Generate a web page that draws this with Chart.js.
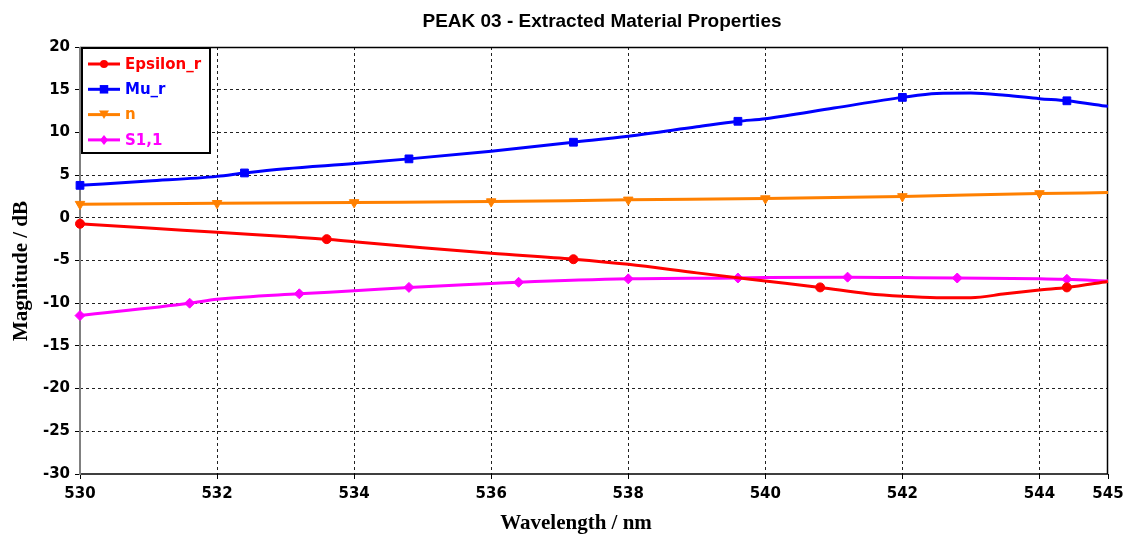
<!DOCTYPE html>
<html>
<head>
<meta charset="utf-8">
<script src="https://cdn.jsdelivr.net/npm/chart.js@4/dist/chart.umd.min.js"></script>
<style>
  html, body { margin: 0; padding: 0; background: #ffffff; }
  #wrap { width: 1130px; height: 534px; }
</style>
</head>
<body>
<div id="wrap"><canvas id="c" width="1130" height="534"></canvas></div>
<script>
// Wavelength samples (nm) and values for each extracted quantity
const epsWl   = [530, 531, 532, 533, 533.6, 534, 535, 536, 537.2, 538, 539, 540, 540.8, 541.5, 542, 542.5, 543, 543.5, 544, 544.4, 545];
const epsVal  = [-0.7, -1.2, -1.7, -2.2, -2.5, -2.8, -3.5, -4.15, -4.85, -5.45, -6.45, -7.4, -8.15, -8.9, -9.2, -9.35, -9.35, -8.9, -8.45, -8.15, -7.45];
const epsMark = [530, 533.6, 537.2, 540.8, 544.4];

const muWl    = [530, 531, 532, 532.4, 533, 534, 534.8, 536, 537.2, 538, 539, 539.6, 540, 541, 542, 542.5, 543, 543.5, 544, 544.4, 545];
const muVal   = [3.8, 4.3, 4.85, 5.25, 5.75, 6.35, 6.9, 7.8, 8.85, 9.55, 10.65, 11.3, 11.6, 12.85, 14.1, 14.55, 14.6, 14.35, 13.95, 13.7, 13.05];
const muMark  = [530, 532.4, 534.8, 537.2, 539.6, 542, 544.4];

const nWl     = [530, 532, 534, 536, 538, 540, 542, 544, 545];
const nVal    = [1.6, 1.7, 1.8, 1.9, 2.1, 2.25, 2.5, 2.85, 2.95];
const nMark   = [530, 532, 534, 536, 538, 540, 542, 544];

const s11Wl   = [530, 531.6, 532, 533.2, 534, 534.8, 536, 536.4, 538, 539.6, 540, 541.2, 542, 542.8, 544, 544.4, 545];
const s11Val  = [-11.45, -10.0, -9.55, -8.9, -8.55, -8.15, -7.7, -7.55, -7.15, -7.05, -7.0, -6.95, -7.0, -7.05, -7.15, -7.2, -7.4];
const s11Mark = [530, 531.6, 533.2, 534.8, 536.4, 538, 539.6, 541.2, 542.8, 544.4];

const xTicks = [530, 532, 534, 536, 538, 540, 542, 544, 545];
const yTicks = [-30, -25, -20, -15, -10, -5, 0, 5, 10, 15, 20];

const seriesNames = ['Epsilon_r', 'Mu_r', 'n', 'S1,1'];
const seriesColors = ['#ff0000', '#0000ff', '#ff8000', '#ff00ff'];

const chartTitle = 'PEAK 03 - Extracted Material Properties';
const xTitle = 'Wavelength / nm';
const yTitle = 'Magnitude / dB';

function pairs(xs, ys) { return xs.map((x, i) => ({ x: x, y: ys[i] })); }

function makeSeries(idx, xs, ys, marks, style, radius, rotation) {
  return {
    label: seriesNames[idx],
    data: pairs(xs, ys),
    borderColor: seriesColors[idx],
    backgroundColor: seriesColors[idx],
    borderWidth: 3,
    cubicInterpolationMode: 'monotone',
    pointStyle: style,
    pointRotation: rotation,
    pointRadius: c => (c.raw && marks.includes(c.raw.x)) ? radius : 0,
    pointHoverRadius: 0,
    pointBorderWidth: 1,
    fill: false,
    clip: false
  };
}

const datasets = [
  makeSeries(0, epsWl, epsVal, epsMark, 'circle', 4.5, 0),
  makeSeries(1, muWl, muVal, muMark, 'rect', 5.5, 0),
  makeSeries(2, nWl, nVal, nMark, 'triangle', 5.5, 180),
  makeSeries(3, s11Wl, s11Val, s11Mark, 'rectRot', 5, 0)
];

function drawMarker(ctx, style, x, y, r, color) {
  ctx.save();
  ctx.fillStyle = color;
  ctx.beginPath();
  if (style === 'circle') {
    ctx.arc(x, y, r, 0, Math.PI * 2);
  } else if (style === 'rect') {
    ctx.rect(x - r * 0.85, y - r * 0.85, r * 1.7, r * 1.7);
  } else if (style === 'triangle') {
    ctx.moveTo(x - r, y - r * 0.8);
    ctx.lineTo(x + r, y - r * 0.8);
    ctx.lineTo(x, y + r * 0.9);
    ctx.closePath();
  } else {
    ctx.moveTo(x, y - r);
    ctx.lineTo(x + r * 0.8, y);
    ctx.lineTo(x, y + r);
    ctx.lineTo(x - r * 0.8, y);
    ctx.closePath();
  }
  ctx.fill();
  ctx.restore();
}

// Solid frame under the curves
const axisFramePlugin = {
  id: 'axisFrame',
  beforeDatasetsDraw(chart) {
    const { ctx, chartArea: a } = chart;
    ctx.save();
    ctx.lineWidth = 1.5;
    ctx.strokeStyle = '#000000';
    ctx.beginPath();
    ctx.moveTo(a.left, a.top + 0.5);
    ctx.lineTo(a.right, a.top + 0.5);
    ctx.moveTo(a.right - 0.5, a.top);
    ctx.lineTo(a.right - 0.5, a.bottom);
    ctx.moveTo(a.left, a.bottom);
    ctx.lineTo(a.right, a.bottom);
    ctx.stroke();
    ctx.lineWidth = 2;
    ctx.strokeStyle = '#808080';
    ctx.beginPath();
    ctx.moveTo(a.left, a.top);
    ctx.lineTo(a.left, a.bottom + 1);
    ctx.stroke();
    ctx.restore();
  }
};

// Titles and the boxed legend inside the plot area
const legendPlugin = {
  id: 'boxLegend',
  afterDatasetsDraw(chart) {
    const { ctx, chartArea: a } = chart;
    ctx.save();
    const bx = a.left + 2, by = a.top + 1, bw = 128, bh = 105;
    ctx.fillStyle = '#ffffff';
    ctx.fillRect(bx, by, bw, bh);
    ctx.lineWidth = 2;
    ctx.strokeStyle = '#000000';
    ctx.strokeRect(bx, by, bw, bh);

    const styles = ['circle', 'rect', 'triangle', 'rectRot'];
    const radii = [4, 5, 5, 5];
    ctx.font = 'bold 15px "DejaVu Sans", Verdana, sans-serif';
    ctx.textBaseline = 'middle';
    ctx.textAlign = 'left';
    chart.data.datasets.forEach((ds, i) => {
      const y = by + 16 + i * 25.3;
      ctx.strokeStyle = ds.borderColor;
      ctx.lineWidth = 3;
      ctx.beginPath();
      ctx.moveTo(bx + 6, y);
      ctx.lineTo(bx + 38, y);
      ctx.stroke();
      drawMarker(ctx, styles[i], bx + 22, y, radii[i], ds.borderColor);
      ctx.fillStyle = ds.borderColor;
      ctx.fillText(ds.label, bx + 43, y + 1);
    });

    ctx.fillStyle = '#000000';
    ctx.textAlign = 'center';
    ctx.textBaseline = 'middle';
    ctx.font = 'bold 19px "Liberation Sans", Arial, sans-serif';
    ctx.fillText(chartTitle, 602, 22);
    ctx.font = 'bold 21px "Liberation Serif", "Times New Roman", serif';
    ctx.fillText(xTitle, 576, 524);
    ctx.translate(22, 271);
    ctx.rotate(-Math.PI / 2);
    ctx.fillText(yTitle, 0, 0);
    ctx.restore();
  }
};

const tickFont = { family: '"DejaVu Sans", Verdana, sans-serif', size: 15, weight: 'bold' };

// grid lines that sit on the frame are left out; the frame draws them solid
function gridColor(edges) {
  return c => (c.tick && edges.includes(c.tick.value)) ? 'rgba(0,0,0,0)' : '#222222';
}

new Chart(document.getElementById('c'), {
  type: 'line',
  data: { datasets: datasets },
  plugins: [axisFramePlugin, legendPlugin],
  options: {
    responsive: false,
    animation: false,
    events: [],
    layout: { padding: { left: 0, right: 22, top: 47, bottom: 0 } },
    plugins: {
      legend: { display: false },
      tooltip: { enabled: false },
      title: { display: false }
    },
    scales: {
      x: {
        type: 'linear',
        min: 530,
        max: 545,
        afterBuildTicks: s => { s.ticks = xTicks.map(v => ({ value: v })); },
        afterFit: s => { s.height = 60; },
        ticks: {
          color: '#000000',
          font: tickFont,
          padding: 6,
          maxRotation: 0,
          autoSkip: false,
          callback: v => String(v)
        },
        grid: {
          color: gridColor([530, 545]),
          lineWidth: 1,
          tickLength: 5,
          tickColor: '#000000',
          tickBorderDash: []
        },
        border: { display: false, dash: [3, 3] }
      },
      y: {
        type: 'linear',
        min: -30,
        max: 20,
        afterBuildTicks: s => { s.ticks = yTicks.map(v => ({ value: v })); },
        afterFit: s => { s.width = 80; },
        ticks: {
          color: '#000000',
          font: tickFont,
          padding: 5,
          autoSkip: false,
          callback: v => String(v)
        },
        grid: {
          color: gridColor([-30, 20]),
          lineWidth: 1,
          tickLength: 5,
          tickColor: '#000000',
          tickBorderDash: []
        },
        border: { display: false, dash: [3, 3] }
      }
    }
  }
});
</script>
</body>
</html>
